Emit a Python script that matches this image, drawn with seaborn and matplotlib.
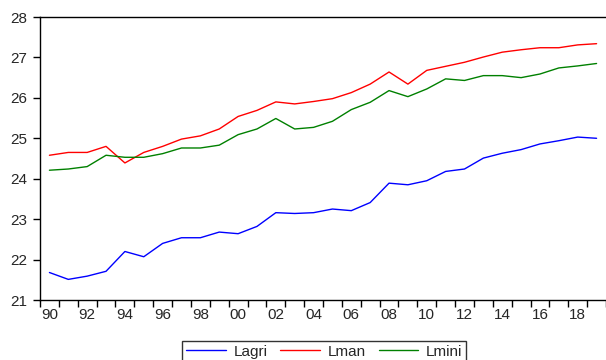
import numpy as np
import pandas as pd
import matplotlib.pyplot as plt
import matplotlib.ticker as mticker
import seaborn as sns

years = list(range(1990, 2020))
lagri = [21.68, 21.51, 21.59, 21.71, 22.20, 22.07, 22.40, 22.54, 22.54, 22.68,
         22.64, 22.82, 23.16, 23.14, 23.16, 23.25, 23.21, 23.41, 23.89, 23.85,
         23.95, 24.18, 24.24, 24.51, 24.63, 24.72, 24.86, 24.94, 25.03, 25.00]
lman = [24.58, 24.65, 24.65, 24.80, 24.39, 24.65, 24.80, 24.98, 25.06, 25.23,
        25.54, 25.69, 25.90, 25.85, 25.91, 25.98, 26.13, 26.34, 26.64, 26.34,
        26.68, 26.78, 26.88, 27.01, 27.13, 27.19, 27.24, 27.24, 27.31, 27.34]
lmini = [24.21, 24.24, 24.30, 24.58, 24.53, 24.53, 24.62, 24.76, 24.76, 24.83,
         25.09, 25.23, 25.49, 25.23, 25.27, 25.42, 25.71, 25.89, 26.18, 26.03,
         26.22, 26.47, 26.43, 26.55, 26.55, 26.50, 26.59, 26.74, 26.79, 26.85]
series_names = ['Lagri', 'Lman', 'Lmini']
colors = ['#0000ff', '#ff0000', '#008000']

df = pd.DataFrame({'year': years, 'Lagri': lagri, 'Lman': lman, 'Lmini': lmini})
long_df = df.melt(id_vars='year', var_name='series', value_name='value')

sns.set_style('white')
plt.rcParams['font.family'] = ['Liberation Sans', 'DejaVu Sans']

fig = plt.figure(figsize=(6.06, 3.6), dpi=100)
ax = fig.add_axes([40 / 606, 1 - 300 / 360, 1 - 40 / 606, (300 - 17) / 360])

sns.lineplot(data=long_df, x='year', y='value', hue='series', hue_order=series_names,
             palette=colors, linewidth=1.0, ax=ax, legend=False)

ax.set_xlim(1989.5, 2019.5)
ax.set_ylim(21, 28)
ax.set_xlabel('')
ax.set_ylabel('')

# ticks at year boundaries, labels at even years
ax.xaxis.set_major_locator(mticker.FixedLocator(np.arange(1989.5, 2020, 1)))
ax.xaxis.set_major_formatter(mticker.NullFormatter())
ax.xaxis.set_minor_locator(mticker.FixedLocator(years[::2]))
ax.xaxis.set_minor_formatter(mticker.FuncFormatter(lambda v, p: '%02d' % (int(round(v)) % 100)))
ax.tick_params(axis='x', which='major', direction='out', length=5, width=1, color='black', bottom=True)
ax.tick_params(axis='x', which='minor', length=0, labelsize=11, pad=6, bottom=True)
ax.set_yticks(range(21, 29))
ax.tick_params(axis='y', direction='out', length=5, width=1, color='black', labelsize=11, left=True, pad=4)

for side in ['left', 'top', 'bottom']:
    ax.spines[side].set_visible(True)
    ax.spines[side].set_color('black')
    ax.spines[side].set_linewidth(1.0)
ax.spines['right'].set_visible(False)

handles = [plt.Line2D([], [], color=c, linewidth=1.0) for c in colors]
leg = fig.legend(handles, series_names, loc='upper center', bbox_to_anchor=(0.535, 1 - 341 / 360),
                 borderaxespad=0, ncol=3, frameon=True, fancybox=False, edgecolor='black',
                 fontsize=11, handlelength=2.6, handletextpad=0.5, columnspacing=0.85,
                 borderpad=0.25)
leg.get_frame().set_linewidth(1.0)

fig.savefig('out.png', dpi=100)
